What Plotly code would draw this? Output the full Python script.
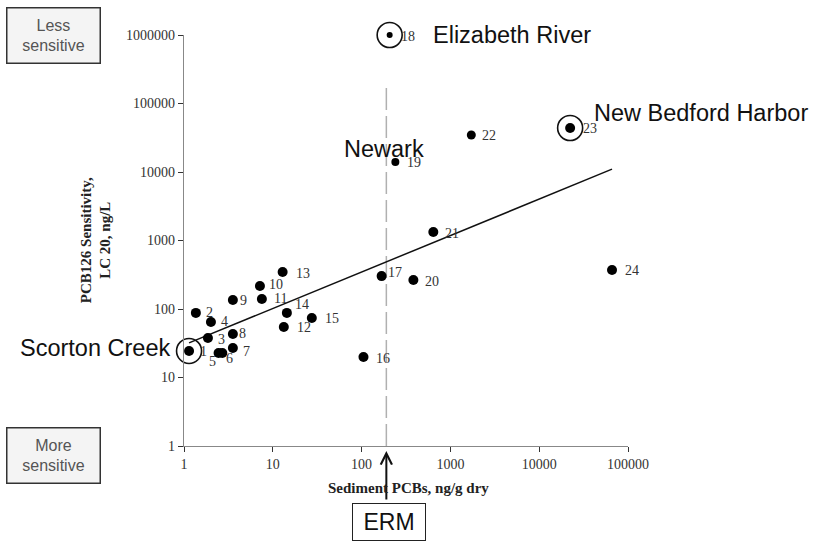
import math
import plotly.graph_objects as go

# ---------------- data ----------------
site_ids = [str(i) for i in range(1, 25)]
sediment_pcb = [1.14, 1.36, 1.86, 2.01, 2.45, 2.7, 3.55, 3.55, 3.55, 7.16, 7.53, 13.3,
                12.9, 14.4, 27.5, 105, 168, 207, 240, 383, 642, 1720, 22300, 66100]
lc20 = [24.4, 87.7, 37.7, 64.7, 22.8, 22.8, 26.9, 43.2, 135, 217, 140, 54.6,
        347, 87.7, 73.9, 19.9, 302, 1000000, 14000, 265, 1330, 34700, 43900, 371]
fit_x = [1.14, 66100]
fit_y = [32, 11000]
erm_value = 190
erm_line_y = [1, 200000]
highlight_sites = ["1", "18", "23"]
highlight_names = {"1": "Scorton Creek", "18": "Elizabeth River", "23": "New Bedford Harbor", "19": "Newark"}
x_ticks = [1, 10, 100, 1000, 10000, 100000]
y_ticks = [1, 10, 100, 1000, 10000, 100000, 1000000]

# ---------------- style ----------------
label_offsets = {  # pixel offsets (dx right, dy down) of number labels
    "1": (14, 1), "2": (14, 0), "3": (14, 1), "4": (14, 0), "5": (-6, 9), "6": (7, 6),
    "7": (14, 3), "8": (10, 0), "9": (11, 0), "10": (16, -1), "11": (19, 0), "12": (20, 0),
    "13": (20, 2), "14": (15, -8), "15": (20, 0), "16": (20, 1), "17": (13, -4), "18": (18, 1),
    "19": (19, 1), "20": (19, 1), "21": (19, 1), "22": (18, 1), "23": (20, 1), "24": (20, 0),
}
dot_sizes = [10] * 24
dot_sizes[17] = 6
dot_sizes[18] = 8
dot_sizes[21] = 9
name_style = {  # (xanchor, xshift, yshift)
    "1": ("right", -17, 3),
    "18": ("left", 41, 0),
    "23": ("left", 22, 15),
    "19": ("right", 31, 13),
}
SERIF = "Liberation Serif, Times New Roman, serif"
SANS = "Liberation Sans, Arial, Helvetica, sans-serif"

fig = go.Figure()

# ERM dashed line
fig.add_trace(go.Scatter(x=[erm_value, erm_value], y=erm_line_y, mode="lines",
                         line=dict(color="#b0b0b0", width=1.5, dash="22px,6px"),
                         hoverinfo="skip", showlegend=False))
# regression line
fig.add_trace(go.Scatter(x=fit_x, y=fit_y, mode="lines",
                         line=dict(color="#111", width=1.5), showlegend=False))
# data points
fig.add_trace(go.Scatter(x=sediment_pcb, y=lc20, mode="markers", cliponaxis=False,
                         marker=dict(color="#000", size=dot_sizes, opacity=1, line=dict(width=0)),
                         text=site_ids, showlegend=False))
# highlight circles
hx = [sediment_pcb[site_ids.index(s)] for s in highlight_sites]
hy = [lc20[site_ids.index(s)] for s in highlight_sites]
fig.add_trace(go.Scatter(x=hx, y=hy, mode="markers", cliponaxis=False,
                         marker=dict(symbol="circle-open", size=25, color="#111", opacity=1,
                                     line=dict(width=1.6, color="#111")),
                         showlegend=False))

annotations = []
for sid, xv, yv in zip(site_ids, sediment_pcb, lc20):
    dx, dy = label_offsets[sid]
    annotations.append(dict(x=math.log10(xv), y=math.log10(yv), xref="x", yref="y",
                            text=sid, showarrow=False, xshift=dx, yshift=-dy,
                            font=dict(family=SERIF, size=14, color="#333")))
for sid, name in highlight_names.items():
    i = site_ids.index(sid)
    xa, xs, ys = name_style[sid]
    annotations.append(dict(x=math.log10(sediment_pcb[i]), y=math.log10(lc20[i]),
                            xref="x", yref="y", text=name,
                            showarrow=False, xanchor=xa, xshift=xs, yshift=ys,
                            font=dict(family=SANS, size=23.5, color="#111")))

# boxes
box_font = dict(family=SANS, size=16, color="#555")
for yv, txt in [(1.0, "Less<br>sensitive"), (-0.022, "More<br>sensitive")]:
    annotations.append(dict(x=-0.293, y=yv, xref="paper", yref="paper", text=txt,
                            xanchor="center", yanchor="middle",
                            showarrow=False, font=box_font, bgcolor="#f4f4f4", bordercolor="#333",
                            borderwidth=1.5, borderpad=2, width=88, height=50))
annotations.append(dict(x=0.462, y=-0.185, xref="paper", yref="paper", text="ERM",
                        xanchor="center", yanchor="middle",
                        showarrow=False, font=dict(family=SANS, size=23, color="#111"),
                        bgcolor="white", bordercolor="#222", borderwidth=1, borderpad=2,
                        width=68, height=32))
# ERM arrow
annotations.append(dict(x=math.log10(erm_value), y=-0.012, xref="x", yref="paper", text="",
                        showarrow=True, ax=0, ay=50, axref="pixel", ayref="pixel",
                        arrowhead=5, arrowsize=1.1, arrowwidth=2, arrowcolor="#111"))
# axis titles
annotations.append(dict(x=-0.198, y=0.501, xref="paper", yref="paper",
                        xanchor="center", yanchor="middle",
                        text="<b>PCB126 Sensitivity,<br>LC 20, ng/L</b>", textangle=-90,
                        showarrow=False, font=dict(family=SERIF, size=15, color="#222")))
annotations.append(dict(x=0.505, y=-0.102, xref="paper", yref="paper",
                        xanchor="center", yanchor="middle",
                        text="<b>Sediment PCBs, ng/g dry</b>",
                        showarrow=False, font=dict(family=SERIF, size=15, color="#222")))

axis_common = dict(type="log", showgrid=False, zeroline=False, showline=True,
                   linecolor="#888", linewidth=1.2, ticks="outside", ticklen=5,
                   tickcolor="#333", tickwidth=1.2, automargin=False,
                   tickfont=dict(family=SERIF, size=14, color="#333"))
fig.update_layout(
    width=814, height=543, autosize=False,
    margin=dict(l=184, r=186, t=35, b=97),
    plot_bgcolor="white", paper_bgcolor="white",
    xaxis=dict(range=[0, 5], tickvals=x_ticks, ticktext=[str(v) for v in x_ticks], **axis_common),
    yaxis=dict(range=[0, 6], tickvals=y_ticks, ticktext=[str(v) for v in y_ticks], **axis_common),
    annotations=annotations,
    showlegend=False,
)
fig.write_html("out.html", config={"displayModeBar": False},
               post_script="document.body.style.margin='0';document.body.style.overflow='hidden';")
